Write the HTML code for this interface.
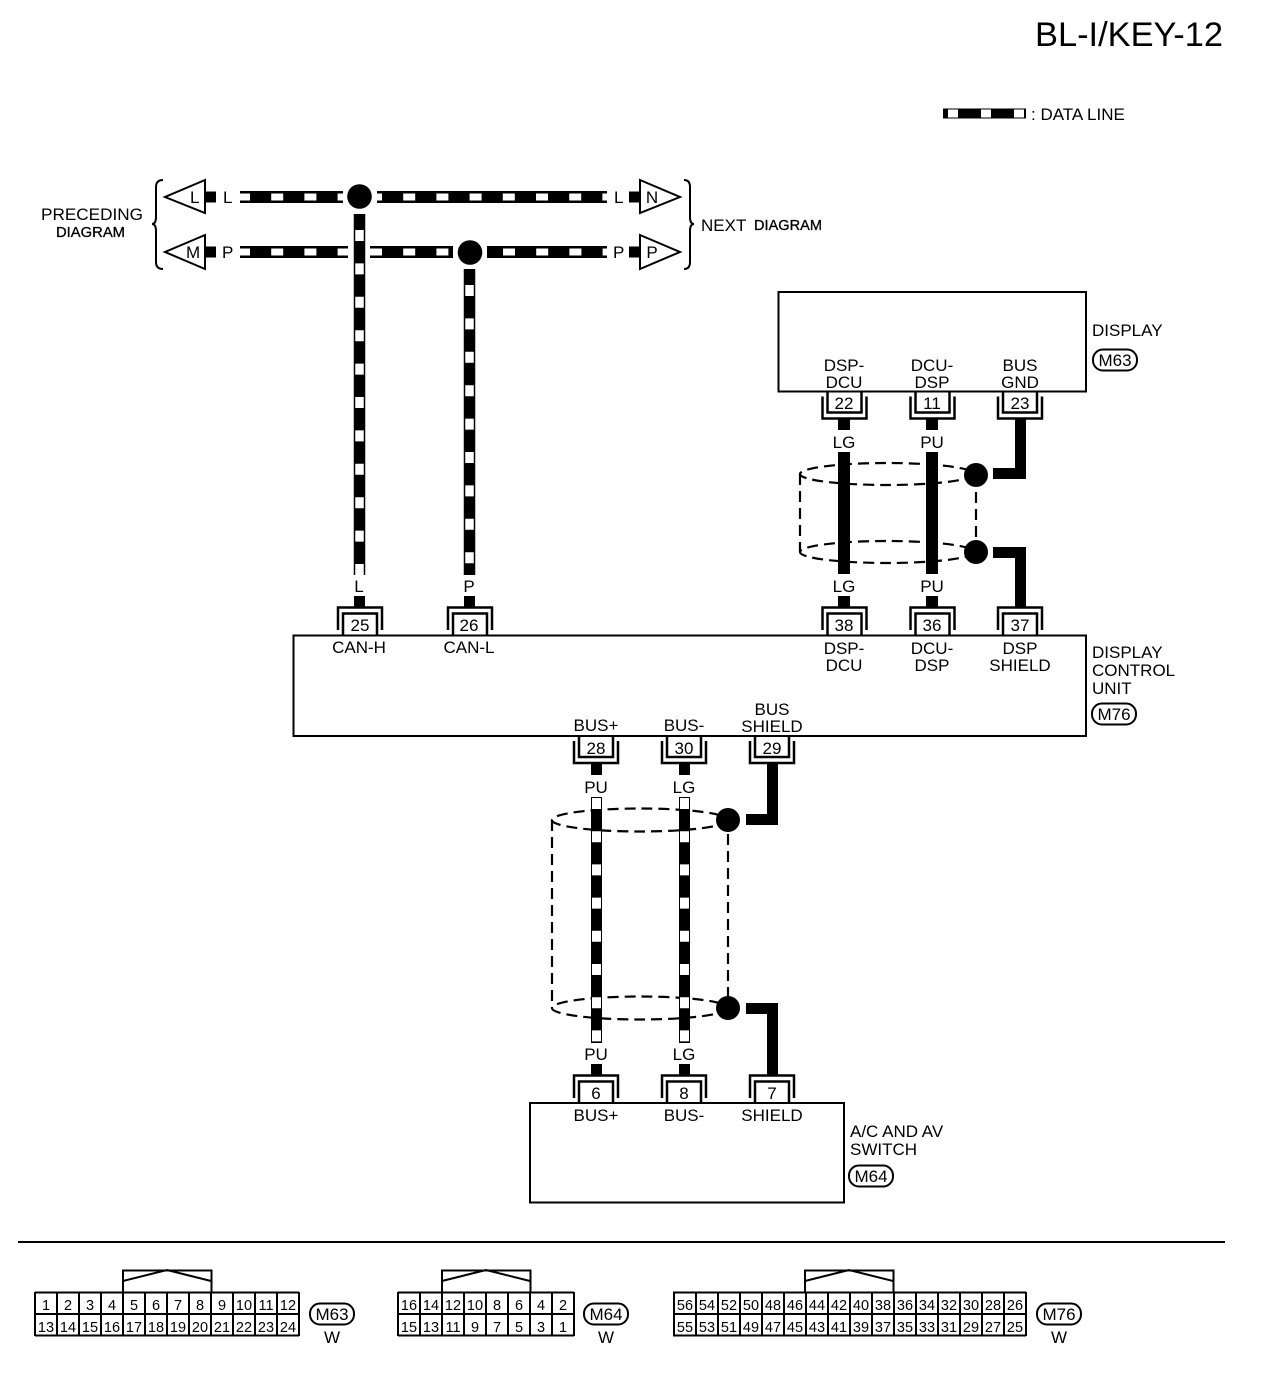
<!DOCTYPE html>
<html><head><meta charset="utf-8"><style>
html,body{margin:0;padding:0;background:#fff}
svg{display:block}
text{font-family:"Liberation Sans",sans-serif;font-size:17px;fill:#000}
.m{text-anchor:middle}
.c{font-size:14.5px;text-anchor:middle}
.s{fill:none;stroke:#000}
.d{fill:none;stroke:#000;stroke-width:2.2;stroke-dasharray:11 6}
.w{stroke:#fff;stroke-width:7;stroke-dasharray:12 21.2;fill:none}
.h{stroke:#fff;stroke-width:8.500;stroke-dasharray:11 22.4;fill:none}
.l{stroke:#fff;stroke-width:9;stroke-dasharray:11 22.2;fill:none}
.b{stroke:#000;fill:none}
.k{font-size:14.500px;stroke:#000;stroke-width:.3}
</style></head><body>
<svg width="1264" height="1384" viewBox="0 0 1264 1384" xmlns="http://www.w3.org/2000/svg">
<defs>
<g id="cu"><path class="s" stroke-width="2.5" d="M-22,-5V-27.5H22V-5"/><path class="s" stroke-width="2.5" d="M-17,0V-21.5H17V0"/></g>
<g id="cd"><path class="s" stroke-width="2.5" d="M-22,5V27H22V5"/><path class="s" stroke-width="2.5" d="M-17,0V21H17V0"/></g>
<rect id="pill" x="-22" y="-10.5" width="44" height="21" rx="10" ry="10" fill="#fff" stroke="#000" stroke-width="2"/>
</defs>
<rect width="1264" height="1384" fill="#fff"/>

<text x="1035" y="46" style="font-size:34.400px">BL-I/KEY-12</text>

<!-- legend -->
<path class="b" stroke-width="10" d="M943,113.500H1026"/>
<path class="l" style="stroke-width:8;stroke-dasharray:10 23" d="M948,113.500H1026"/>
<text x="1031" y="120">: DATA LINE</text>

<!-- top left labels -->
<text x="41" y="220" textLength="102" lengthAdjust="spacingAndGlyphs">PRECEDING</text>
<text x="56" y="237" class="k" textLength="69" lengthAdjust="spacingAndGlyphs">DIAGRAM</text>
<text x="701" y="231">NEXT</text>
<text x="754" y="230" class="k" textLength="68" lengthAdjust="spacingAndGlyphs">DIAGRAM</text>

<!-- braces -->
<path class="s" stroke-width="2" d="M163,180Q156,180 156,187V217Q156,224 152,224Q156,224 156,231V262Q156,269 163,269"/>
<path class="s" stroke-width="2" d="M684,180Q690,180 690,187V217Q690,224 694,224Q690,224 690,231V262Q690,269 684,269"/>

<!-- arrows -->
<path d="M205,180L165,197L205,213Z" fill="#fff" stroke="#000" stroke-width="2"/>
<path d="M205,235L165,252L205,269Z" fill="#fff" stroke="#000" stroke-width="2"/>
<path d="M640,180L680,197L640,213Z" fill="#fff" stroke="#000" stroke-width="2"/>
<path d="M640,235L680,252L640,269Z" fill="#fff" stroke="#000" stroke-width="2"/>
<path class="b" stroke-width="11" d="M205,197H216M205,252H216M629,197H640M629,252H640"/>
<text x="190" y="203">L</text>
<text x="186" y="258">M</text>
<text x="652" y="203" class="m">N</text>
<text x="652" y="258" class="m">P</text>
<text x="223" y="203">L</text>
<text x="222" y="258">P</text>
<text x="614" y="203">L</text>
<text x="613" y="258">P</text>

<!-- CAN data lines -->
<path class="b" stroke-width="12" d="M240,197H343M377,197H607M240,252H348M370,252H453M487,252H607"/>
<path class="w" stroke-dashoffset="2" d="M240,197H343"/>
<path class="w" stroke-dashoffset="7" d="M377,197H607"/>
<path class="w" stroke-dashoffset="2" d="M240,252H348"/>
<path class="w" d="M370,252H453"/>
<path class="w" stroke-dashoffset="-16" d="M487,252H607"/>
<path class="b" stroke-width="11.500" d="M359.500,214V575M469.500,269V575"/>
<path class="h" d="M359.500,230V575"/>
<path class="h" d="M469.500,285V575"/>
<circle cx="359.500" cy="196.500" r="12.300"/>
<circle cx="470" cy="252.500" r="12.300"/>
<text x="359" y="592" class="m">L</text>
<text x="469" y="592" class="m">P</text>
<path class="b" stroke-width="11" d="M359.500,596V607M469.500,596V607"/>

<!-- display box -->
<rect x="778.500" y="292" width="307.500" height="99.500" class="s" stroke-width="2"/>
<text x="844" y="371" class="m">DSP-</text><text x="844" y="388" class="m">DCU</text>
<text x="932" y="371" class="m">DCU-</text><text x="932" y="388" class="m">DSP</text>
<text x="1020" y="371" class="m">BUS</text><text x="1020" y="388" class="m">GND</text>
<text x="1092" y="336">DISPLAY</text>
<use href="#pill" x="1115" y="360"/><text x="1115" y="366" class="m">M63</text>
<use href="#cd" x="844.500" y="391.500"/><use href="#cd" x="932.500" y="391.500"/><use href="#cd" x="1020" y="391.500"/>
<text x="844" y="409" class="m">22</text><text x="932" y="409" class="m">11</text><text x="1020" y="409" class="m">23</text>

<!-- display wires -->
<path class="b" stroke-width="12" d="M844,419V430M932,419V430M844,452V574M932,452V574M844,596V607M932,596V607"/>
<path class="b" stroke-width="11" d="M993,473.500H1020.500V419M993,552.500H1020.500V607" />
<text x="844" y="448" class="m">LG</text><text x="932" y="448" class="m">PU</text>
<text x="844" y="592" class="m">LG</text><text x="932" y="592" class="m">PU</text>
<ellipse cx="887" cy="474" rx="87" ry="11" class="d"/>
<ellipse cx="887" cy="552" rx="87" ry="11" class="d"/>
<path class="d" d="M800,474V552M976,492V540"/>
<path class="b" stroke-width="12" d="M844,452V574M932,452V574"/>
<circle cx="976" cy="475" r="12"/>
<circle cx="976" cy="552" r="12"/>

<!-- control unit -->
<rect x="293.500" y="635.500" width="792.500" height="100.500" class="s" stroke-width="2"/>
<use href="#cu" x="360" y="635"/><use href="#cu" x="470" y="635"/><use href="#cu" x="844.500" y="635"/><use href="#cu" x="932.500" y="635"/><use href="#cu" x="1020" y="635"/>
<text x="360" y="631" class="m">25</text><text x="469" y="631" class="m">26</text><text x="844" y="631" class="m">38</text><text x="932" y="631" class="m">36</text><text x="1020" y="631" class="m">37</text>
<text x="359" y="653" class="m">CAN-H</text><text x="469" y="653" class="m">CAN-L</text>
<text x="844" y="654" class="m">DSP-</text><text x="844" y="671" class="m">DCU</text>
<text x="932" y="654" class="m">DCU-</text><text x="932" y="671" class="m">DSP</text>
<text x="1020" y="654" class="m">DSP</text><text x="1020" y="671" class="m">SHIELD</text>
<text x="1092" y="658">DISPLAY</text><text x="1092" y="676">CONTROL</text><text x="1092" y="694">UNIT</text>
<use href="#pill" x="1114" y="714"/><text x="1114" y="720" class="m">M76</text>
<text x="596" y="731" class="m">BUS+</text><text x="684" y="731" class="m">BUS-</text>
<text x="772" y="715" class="m">BUS</text><text x="772" y="732" class="m">SHIELD</text>
<use href="#cd" x="596" y="736"/><use href="#cd" x="684" y="736"/><use href="#cd" x="772" y="736"/>
<text x="596" y="754" class="m">28</text><text x="684" y="754" class="m">30</text><text x="772" y="754" class="m">29</text>

<!-- lower wires -->
<path class="b" stroke-width="11" d="M596.500,764V775M684.500,764V775M596.500,1064V1075M684.500,1064V1075"/>
<path class="b" stroke-width="11" d="M746,819.500H772.500V764M746,1008.500H772.500V1075"/>
<text x="596" y="793" class="m">PU</text><text x="684" y="793" class="m">LG</text>
<text x="596" y="1060" class="m">PU</text><text x="684" y="1060" class="m">LG</text>
<ellipse cx="640" cy="820" rx="88" ry="11.500" class="d"/>
<ellipse cx="640" cy="1008" rx="88" ry="11.500" class="d"/>
<path class="d" d="M552,820V1008M728,834V996"/>
<path class="b" stroke-width="11" d="M596.500,797V1043M684.500,797V1043"/>
<path class="l" d="M596.500,798V1043"/>
<path class="l" d="M684.500,798V1043"/>
<circle cx="728" cy="820" r="12"/>
<circle cx="728" cy="1008" r="12"/>

<!-- AC box -->
<rect x="530" y="1103" width="314" height="99.500" class="s" stroke-width="2"/>
<use href="#cu" x="596" y="1103"/><use href="#cu" x="684" y="1103"/><use href="#cu" x="772" y="1103"/>
<text x="596" y="1099" class="m">6</text><text x="684" y="1099" class="m">8</text><text x="772" y="1099" class="m">7</text>
<text x="596" y="1121" class="m">BUS+</text><text x="684" y="1121" class="m">BUS-</text><text x="772" y="1121" class="m">SHIELD</text>
<text x="850" y="1137">A/C AND AV</text><text x="850" y="1155">SWITCH</text>
<use href="#pill" x="871" y="1176"/><text x="871" y="1182" class="m">M64</text>

<!-- divider -->
<path class="b" stroke-width="2" d="M18,1242H1225"/>

<!-- M63 -->
<path class="s" stroke-width="2" d="M123,1292V1270.500H211.500V1292M123,1281L167,1270L211,1281"/>
<path class="s" stroke-width="2" d="M35,1292.500H299M35,1314H299M35,1335.500H299"/>
<path class="s" stroke-width="44" stroke-dasharray="2 20" d="M34,1314H300"/>
<text x="46" y="1310" class="c">1</text><text x="68" y="1310" class="c">2</text><text x="90" y="1310" class="c">3</text><text x="112" y="1310" class="c">4</text><text x="134" y="1310" class="c">5</text><text x="156" y="1310" class="c">6</text><text x="178" y="1310" class="c">7</text><text x="200" y="1310" class="c">8</text><text x="222" y="1310" class="c">9</text><text x="244" y="1310" class="c">10</text><text x="266" y="1310" class="c">11</text><text x="288" y="1310" class="c">12</text>
<text x="46" y="1332" class="c">13</text><text x="68" y="1332" class="c">14</text><text x="90" y="1332" class="c">15</text><text x="112" y="1332" class="c">16</text><text x="134" y="1332" class="c">17</text><text x="156" y="1332" class="c">18</text><text x="178" y="1332" class="c">19</text><text x="200" y="1332" class="c">20</text><text x="222" y="1332" class="c">21</text><text x="244" y="1332" class="c">22</text><text x="266" y="1332" class="c">23</text><text x="288" y="1332" class="c">24</text>
<use href="#pill" x="332" y="1314"/><text x="332" y="1320" class="m">M63</text>
<text x="332" y="1343" class="m">W</text>

<!-- M64 -->
<path class="s" stroke-width="2" d="M442,1292V1270.500H530.500V1292M442,1281L486,1270L530,1281"/>
<path class="s" stroke-width="2" d="M398,1292.500H574M398,1314H574M398,1335.500H574"/>
<path class="s" stroke-width="44" stroke-dasharray="2 20" d="M397,1314H575"/>
<text x="409" y="1310" class="c">16</text><text x="431" y="1310" class="c">14</text><text x="453" y="1310" class="c">12</text><text x="475" y="1310" class="c">10</text><text x="497" y="1310" class="c">8</text><text x="519" y="1310" class="c">6</text><text x="541" y="1310" class="c">4</text><text x="563" y="1310" class="c">2</text>
<text x="409" y="1332" class="c">15</text><text x="431" y="1332" class="c">13</text><text x="453" y="1332" class="c">11</text><text x="475" y="1332" class="c">9</text><text x="497" y="1332" class="c">7</text><text x="519" y="1332" class="c">5</text><text x="541" y="1332" class="c">3</text><text x="563" y="1332" class="c">1</text>
<use href="#pill" x="606" y="1314"/><text x="606" y="1320" class="m">M64</text>
<text x="606" y="1343" class="m">W</text>

<!-- M76 -->
<path class="s" stroke-width="2" d="M805,1292V1270.500H893.500V1292M805,1281L849,1270L893,1281"/>
<path class="s" stroke-width="2" d="M673,1292.500H1026M673,1314H1026M673,1335.500H1026"/>
<path class="s" stroke-width="44" stroke-dasharray="2 20" d="M673,1314H1027"/>
<text x="685" y="1310" class="c">56</text><text x="707" y="1310" class="c">54</text><text x="729" y="1310" class="c">52</text><text x="751" y="1310" class="c">50</text><text x="773" y="1310" class="c">48</text><text x="795" y="1310" class="c">46</text><text x="817" y="1310" class="c">44</text><text x="839" y="1310" class="c">42</text><text x="861" y="1310" class="c">40</text><text x="883" y="1310" class="c">38</text><text x="905" y="1310" class="c">36</text><text x="927" y="1310" class="c">34</text><text x="949" y="1310" class="c">32</text><text x="971" y="1310" class="c">30</text><text x="993" y="1310" class="c">28</text><text x="1015" y="1310" class="c">26</text>
<text x="685" y="1332" class="c">55</text><text x="707" y="1332" class="c">53</text><text x="729" y="1332" class="c">51</text><text x="751" y="1332" class="c">49</text><text x="773" y="1332" class="c">47</text><text x="795" y="1332" class="c">45</text><text x="817" y="1332" class="c">43</text><text x="839" y="1332" class="c">41</text><text x="861" y="1332" class="c">39</text><text x="883" y="1332" class="c">37</text><text x="905" y="1332" class="c">35</text><text x="927" y="1332" class="c">33</text><text x="949" y="1332" class="c">31</text><text x="971" y="1332" class="c">29</text><text x="993" y="1332" class="c">27</text><text x="1015" y="1332" class="c">25</text>
<use href="#pill" x="1059" y="1314"/><text x="1059" y="1320" class="m">M76</text>
<text x="1059" y="1343" class="m">W</text>
</svg>
</body></html>
